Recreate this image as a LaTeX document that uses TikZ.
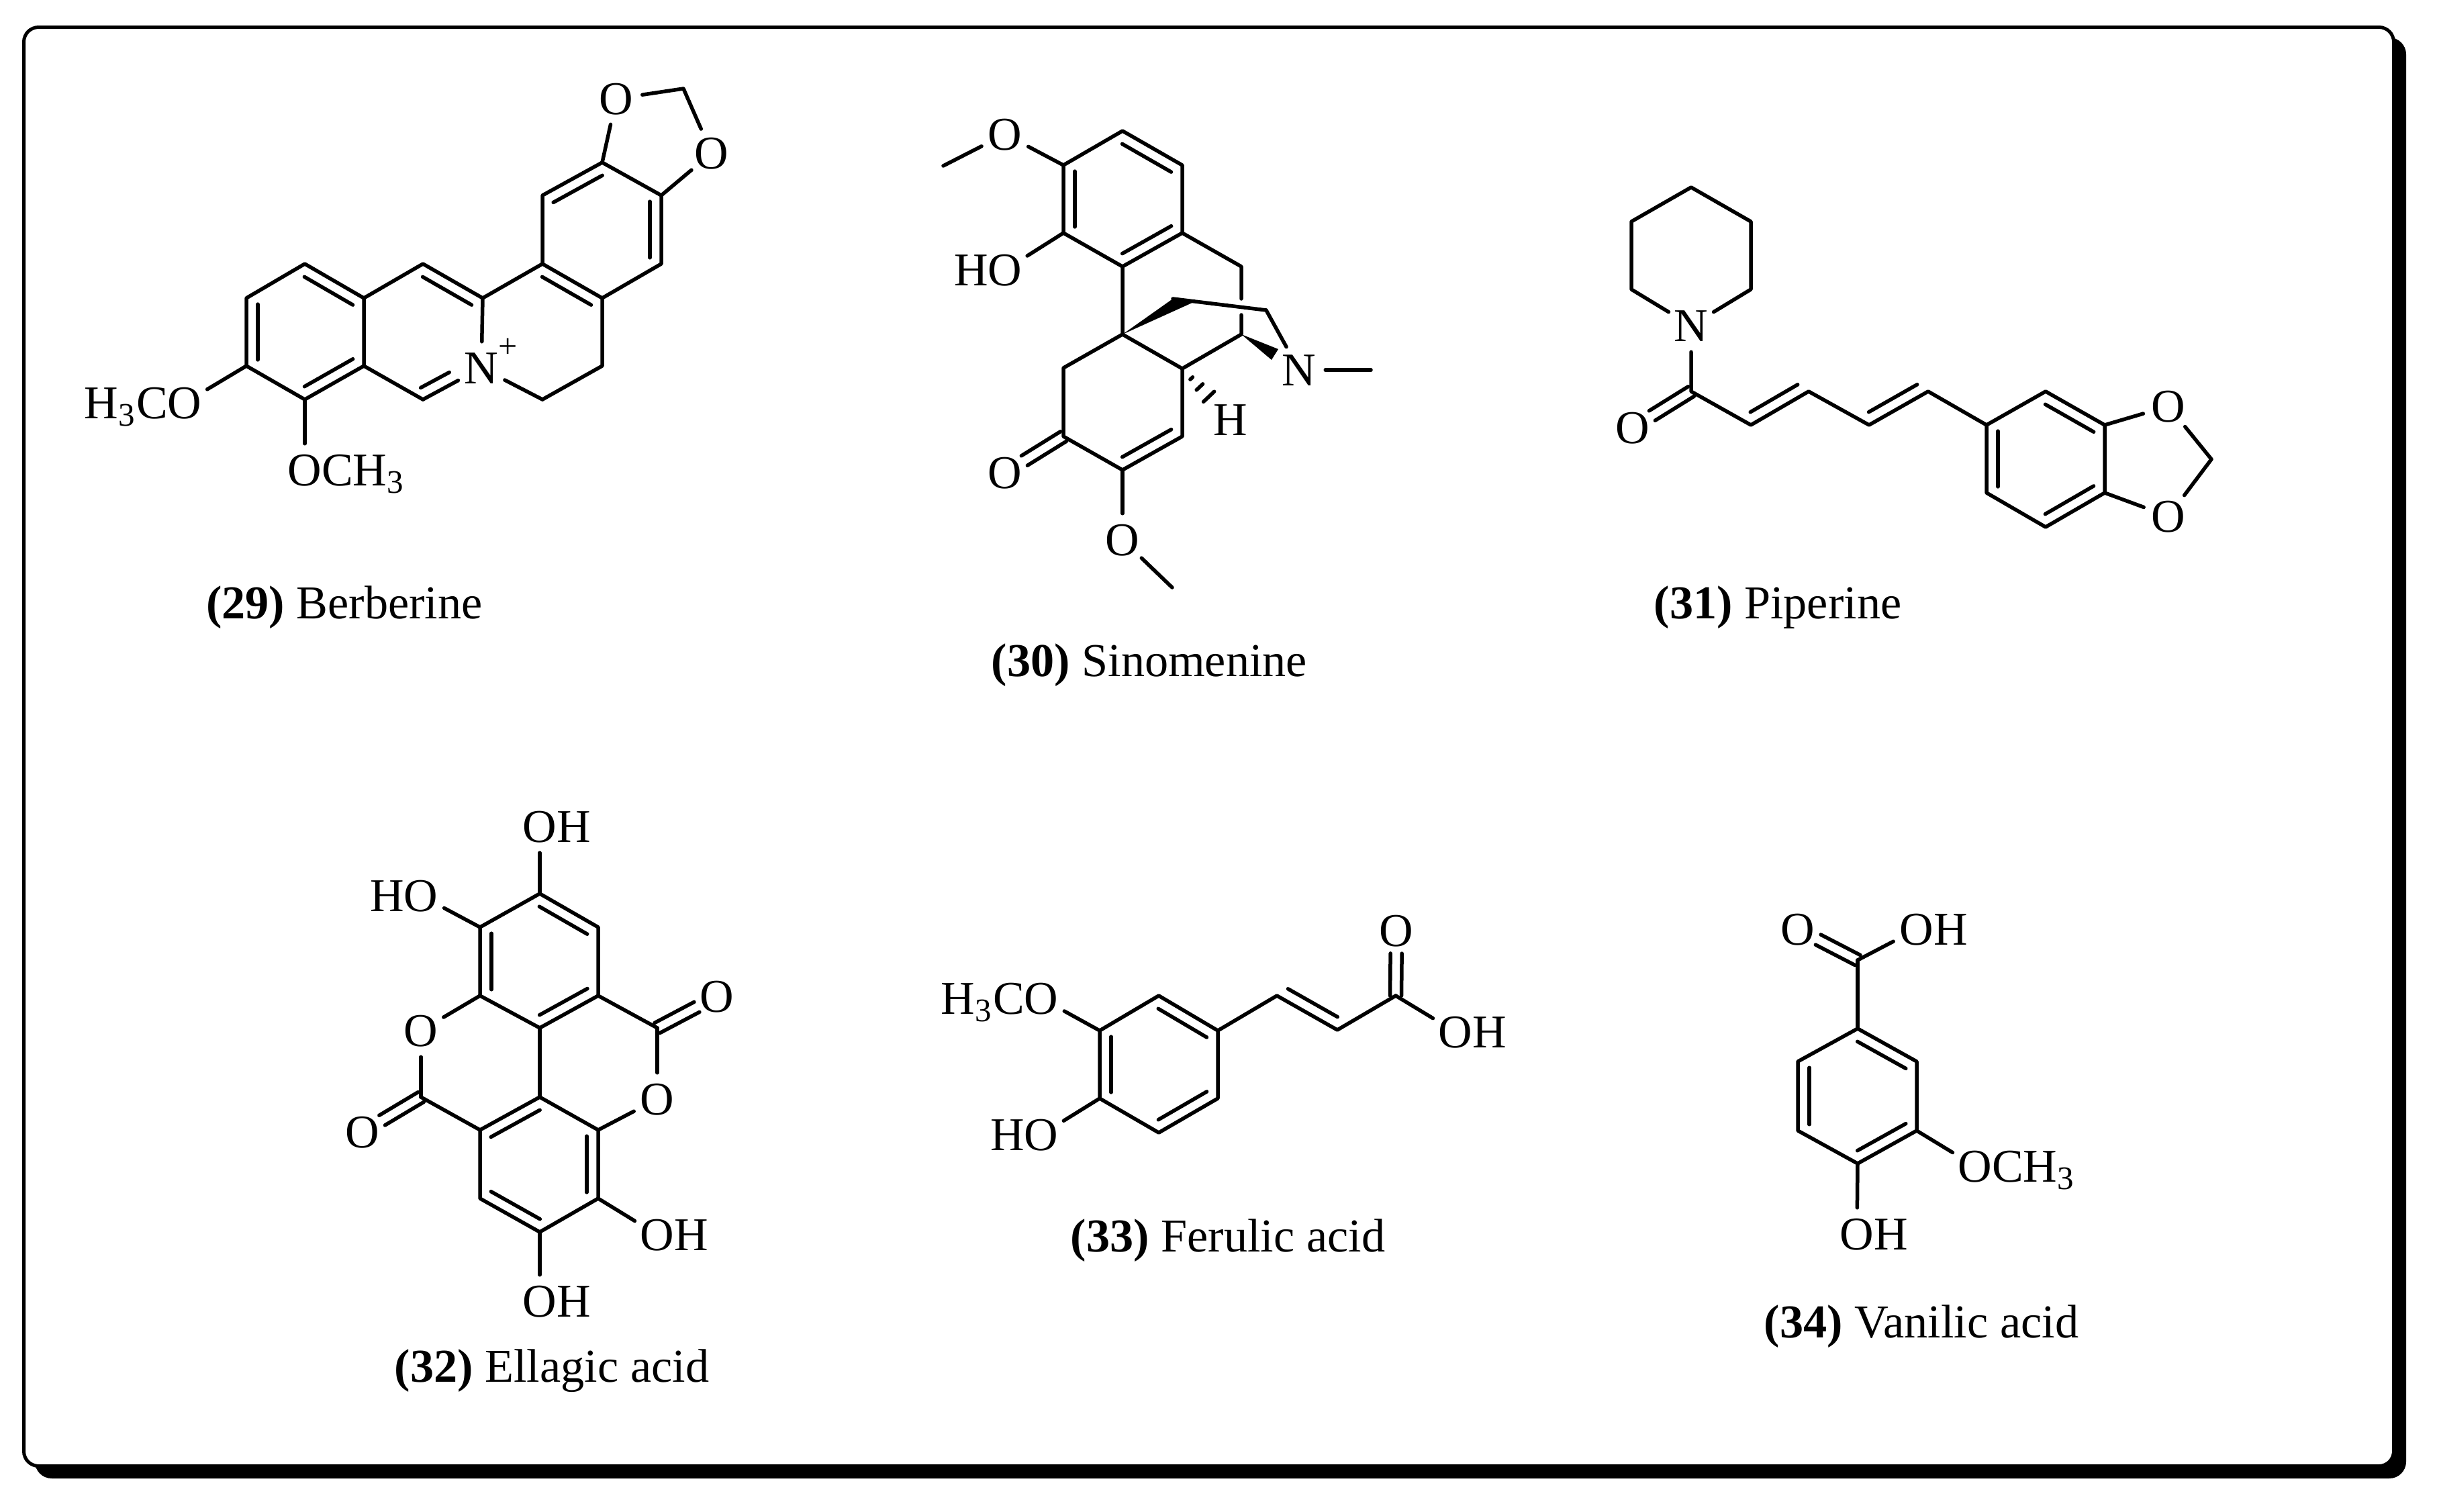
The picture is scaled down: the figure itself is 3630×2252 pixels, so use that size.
\documentclass[tikz,border=0pt]{standalone}
\usepackage{fontspec}
\setmainfont{Liberation Serif}
\usetikzlibrary{calc}
\tikzset{
	bond/.style={line width=1.1pt,line cap=round,line join=round},
	atom/.style={circle,inner sep=0pt,outer sep=1pt,text height=9.3pt,text depth=0pt,font=\fontsize{14}{17}\selectfont},
	capt/.style={anchor=base,inner sep=0pt,font=\fontsize{14.05}{17}\selectfont},
	frame/.style={line width=1pt,rounded corners=4.4pt}
}
\newcommand{\inbond}[2]{\draw[bond] ($(#1)!.09!(#2)!3.4pt!-90:(#2)$) -- ($(#2)!.09!(#1)!3.4pt!90:(#1)$);}
\newcommand{\dblbond}[2]{
	\draw[bond,shorten >=6.8pt] ($(#1)!1.7pt!-90:(#2)$) -- ($(#2)!1.7pt!90:(#1)$);
	\draw[bond,shorten >=6.8pt] ($(#1)!1.7pt!90:(#2)$) -- ($(#2)!1.7pt!-90:(#1)$);
}
\begin{document}
\begin{tikzpicture}[x=0.2pt,y=-0.2pt]
	\useasboundingbox (0,0) rectangle (3630,2252);
	\fill[rounded corners=5pt] (52,56) rectangle (3584,2202);
	\draw[frame,fill=white] (35.5,40.5) rectangle (3565.5,2183.5);

	\coordinate (ba1) at (367,444);
	\coordinate (ba2) at (454,393);
	\coordinate (ba3) at (542,444);
	\coordinate (ba4) at (542,545);
	\coordinate (ba5) at (454,595);
	\coordinate (ba6) at (367,545);
	\coordinate (bb1) at (630,393);
	\coordinate (bb2) at (719,444);
	\coordinate (bb4) at (630,595);
	\coordinate (bn) at (682,567);
	\coordinate (bc1) at (808,393);
	\coordinate (bc2) at (897,444);
	\coordinate (bc3) at (897,545);
	\coordinate (bc4) at (808,595);
	\coordinate (bd1) at (808,291);
	\coordinate (bd2) at (897,242);
	\coordinate (bd3) at (985,291);
	\coordinate (bd4) at (985,393);
	\coordinate (bch) at (1018,132);
	\node[atom] (bN) at (717,548) {N\rlap{\raisebox{1.2ex}{\fontsize{10}{12}\selectfont +}}};
	\node[atom] (bo1) at (918,147) {O};
	\node[atom] (bo2) at (1060,228) {O};
	\node[atom] (bo3) at (275,600) {\llap{H\textsubscript{3}C}O};
	\node[atom] (bo4) at (454,700) {O\rlap{CH\textsubscript{3}}};
	\draw[bond] (ba1) -- (ba2) -- (ba3) -- (ba4) -- (ba5) -- (ba6) -- cycle;
	\draw[bond] (ba3) -- (bb1) -- (bb2) -- (bc1) -- (bc2) -- (bc3) -- (bc4);
	\draw[bond] (ba4) -- (bb4);
	\draw[bond] (bb2) -- (bN);
	\draw[bond] (bb4) -- (bN);
	\draw[bond] (bc4) -- (bN);
	\draw[bond] (bc1) -- (bd1) -- (bd2) -- (bd3) -- (bd4) -- (bc2);
	\draw[bond] (bd2) -- (bo1);
	\draw[bond] (bd3) -- (bo2);
	\draw[bond] (bo1) -- (bch) -- (bo2);
	\draw[bond] (ba6) -- (bo3);
	\draw[bond] (ba5) -- (bo4);
	\inbond{ba2}{ba3}
	\inbond{ba4}{ba5}
	\inbond{ba6}{ba1}
	\inbond{bb1}{bb2}
	\inbond{bn}{bb4}
	\inbond{bc1}{bc2}
	\inbond{bd1}{bd2}
	\inbond{bd3}{bd4}
	\node[capt] (cap29) at (513,921) {\textbf{(29)} Berberine};

	\coordinate (sr1) at (1584,246);
	\coordinate (sr2) at (1672,195);
	\coordinate (sr3) at (1761,246);
	\coordinate (sr4) at (1761,347);
	\coordinate (sr5) at (1672,397);
	\coordinate (sr6) at (1584,347);
	\coordinate (ss1) at (1849,397);
	\coordinate (ss2) at (1849,498);
	\coordinate (sg1) at (1849,445);
	\coordinate (sg2) at (1849,469);
	\coordinate (sq) at (1672,498);
	\coordinate (st) at (1761,549);
	\coordinate (su) at (1584,548);
	\coordinate (sv) at (1584,650);
	\coordinate (sw) at (1672,700);
	\coordinate (sx) at (1761,650);
	\coordinate (sy) at (1747,445);
	\coordinate (sz) at (1778,450);
	\coordinate (sb) at (1886,462);
	\coordinate (sw1) at (1904,520);
	\coordinate (sw2) at (1894,536);
	\coordinate (sm1) at (1405,247);
	\coordinate (sm2) at (2042,551);
	\coordinate (sm3) at (1746,875);
	\node[atom] (so1) at (1497,200) {O};
	\node[atom] (so2) at (1497,402) {\llap{H}O};
	\node[atom] (so3) at (1497,704) {O};
	\node[atom] (so4) at (1672,804) {O};
	\node[atom] (sN) at (1935,551) {N};
	\node[atom] (sH) at (1833,625) {H};
	\dblbond{sv}{so3}
	\draw[bond] (sr1) -- (sr2) -- (sr3) -- (sr4) -- (sr5) -- (sr6) -- cycle;
	\draw[bond] (sr4) -- (ss1) -- (sg1);
	\draw[bond] (sg2) -- (ss2) -- (st) -- (sq) -- (sr5);
	\draw[bond] (sq) -- (su) -- (sv) -- (sw) -- (sx) -- (st);
	\fill (sq) -- (sy) -- (sz) -- cycle;
	\fill (ss2) -- (sw1) -- (sw2) -- cycle;
	\draw[bond] (sy) -- (sb);
	\draw[bond] (sb) -- (sN);
	\draw[bond] (sN) -- (sm2);
	\draw[bond] (sr1) -- (so1);
	\draw[bond] (so1) -- (sm1);
	\draw[bond] (sr6) -- (so2);
	\draw[bond] (sw) -- (so4);
	\draw[bond] (so4) -- (sm3);
	\draw[bond] ($(st)!.19!(sH)!.5pt!90:(sH)$) -- ($(st)!.19!(sH)!.5pt!-90:(sH)$);
	\draw[bond] ($(st)!.36!(sH)!1.3pt!90:(sH)$) -- ($(st)!.36!(sH)!1.3pt!-90:(sH)$);
	\draw[bond] ($(st)!.55!(sH)!2.2pt!90:(sH)$) -- ($(st)!.55!(sH)!2.2pt!-90:(sH)$);
	\inbond{sr2}{sr3}
	\inbond{sr4}{sr5}
	\inbond{sr6}{sr1}
	\inbond{sx}{sw}
	\node[capt] (cap30) at (1712,1007) {\textbf{(30)} Sinomenine};

	\coordinate (pp1) at (2519,279);
	\coordinate (pp2) at (2608,330);
	\coordinate (pp3) at (2608,431);
	\coordinate (pp5) at (2430,431);
	\coordinate (pp6) at (2430,330);
	\coordinate (pc0) at (2519,583);
	\coordinate (pc1) at (2608,633);
	\coordinate (pc2) at (2694,583);
	\coordinate (pc3) at (2784,633);
	\coordinate (pc4) at (2872,583);
	\coordinate (pr1) at (2959,633);
	\coordinate (pr2) at (3047,583);
	\coordinate (pr3) at (3135,633);
	\coordinate (pr4) at (3135,734);
	\coordinate (pr5) at (3047,785);
	\coordinate (pr6) at (2959,734);
	\coordinate (pch) at (3294,684);
	\node[atom] (pN) at (2519,485) {N};
	\node[atom] (po1) at (2432,637) {O};
	\node[atom] (po2) at (3230,605) {O};
	\node[atom] (po3) at (3230,769) {O};
	\dblbond{pc0}{po1}
	\draw[bond] (pN) -- (pp3) -- (pp2) -- (pp1) -- (pp6) -- (pp5) -- (pN);
	\draw[bond] (pN) -- (pc0) -- (pc1) -- (pc2) -- (pc3) -- (pc4) -- (pr1);
	\draw[bond] (pr1) -- (pr2) -- (pr3) -- (pr4) -- (pr5) -- (pr6) -- cycle;
	\draw[bond] (pr3) -- (po2);
	\draw[bond] (pr4) -- (po3);
	\draw[bond] (po2) -- (pch) -- (po3);
	\inbond{pc2}{pc1}
	\inbond{pc4}{pc3}
	\inbond{pr6}{pr1}
	\inbond{pr2}{pr3}
	\inbond{pr4}{pr5}
	\node[capt] (cap31) at (2648,921) {\textbf{(31)} Piperine};

	\coordinate (eu1) at (804,1331);
	\coordinate (eu2) at (891,1381);
	\coordinate (eu3) at (891,1483);
	\coordinate (eu4) at (804,1531);
	\coordinate (eu5) at (715,1483);
	\coordinate (eu6) at (715,1381);
	\coordinate (el1) at (804,1634);
	\coordinate (el2) at (891,1683);
	\coordinate (el3) at (891,1785);
	\coordinate (el4) at (804,1835);
	\coordinate (el5) at (715,1785);
	\coordinate (el6) at (715,1683);
	\coordinate (ek1) at (979,1531);
	\coordinate (ek2) at (627,1634);
	\node[atom] (eo1) at (804,1231) {O\rlap{H}};
	\node[atom] (eo2) at (627,1334) {\llap{H}O};
	\node[atom] (eo3) at (1068,1484) {O};
	\node[atom] (eo4) at (979,1637) {O};
	\node[atom] (eo5) at (627,1535) {O};
	\node[atom] (eo6) at (540,1686) {O};
	\node[atom] (eo7) at (979,1839) {O\rlap{H}};
	\node[atom] (eo8) at (804,1938) {O\rlap{H}};
	\dblbond{ek1}{eo3}
	\dblbond{ek2}{eo6}
	\draw[bond] (eu1) -- (eu2) -- (eu3) -- (eu4) -- (eu5) -- (eu6) -- cycle;
	\draw[bond] (el1) -- (el2) -- (el3) -- (el4) -- (el5) -- (el6) -- cycle;
	\draw[bond] (eu4) -- (el1);
	\draw[bond] (eu3) -- (ek1);
	\draw[bond] (ek1) -- (eo4);
	\draw[bond] (eo4) -- (el2);
	\draw[bond] (el6) -- (ek2);
	\draw[bond] (ek2) -- (eo5);
	\draw[bond] (eo5) -- (eu5);
	\draw[bond] (eu1) -- (eo1);
	\draw[bond] (eu6) -- (eo2);
	\draw[bond] (el3) -- (eo7);
	\draw[bond] (el4) -- (eo8);
	\inbond{eu1}{eu2}
	\inbond{eu3}{eu4}
	\inbond{eu5}{eu6}
	\inbond{el6}{el1}
	\inbond{el2}{el3}
	\inbond{el4}{el5}
	\node[capt] (cap32) at (822,2058) {\textbf{(32)} Ellagic acid};

	\coordinate (fr1) at (1726,1483);
	\coordinate (fr2) at (1814,1535);
	\coordinate (fr3) at (1814,1636);
	\coordinate (fr4) at (1726,1687);
	\coordinate (fr5) at (1638,1636);
	\coordinate (fr6) at (1638,1535);
	\coordinate (fc1) at (1902,1483);
	\coordinate (fc2) at (1992,1534);
	\coordinate (fc3) at (2079,1483);
	\node[atom] (fo1) at (2080,1386) {O};
	\node[atom] (fo2) at (2168,1537) {O\rlap{H}};
	\node[atom] (fo3) at (1551,1487) {\llap{H\textsubscript{3}C}O};
	\node[atom] (fo4) at (1551,1690) {\llap{H}O};
	\dblbond{fc3}{fo1}
	\draw[bond] (fr1) -- (fr2) -- (fr3) -- (fr4) -- (fr5) -- (fr6) -- cycle;
	\draw[bond] (fr2) -- (fc1) -- (fc2) -- (fc3);
	\draw[bond] (fc3) -- (fo2);
	\draw[bond] (fr6) -- (fo3);
	\draw[bond] (fr5) -- (fo4);
	\inbond{fr1}{fr2}
	\inbond{fr3}{fr4}
	\inbond{fr5}{fr6}
	\inbond{fc2}{fc1}
	\node[capt] (cap33) at (1829,1864) {\textbf{(33)} Ferulic acid};

	\coordinate (vr1) at (2767,1532);
	\coordinate (vr2) at (2855,1581);
	\coordinate (vr3) at (2855,1684);
	\coordinate (vr4) at (2767,1733);
	\coordinate (vr5) at (2678,1684);
	\coordinate (vr6) at (2678,1581);
	\coordinate (vc) at (2767,1430);
	\node[atom] (vo1) at (2678,1384) {O};
	\node[atom] (vo2) at (2855,1384) {O\rlap{H}};
	\node[atom] (vo3) at (2942,1737) {O\rlap{CH\textsubscript{3}}};
	\node[atom] (vo4) at (2766,1838) {O\rlap{H}};
	\dblbond{vc}{vo1}
	\draw[bond] (vr1) -- (vr2) -- (vr3) -- (vr4) -- (vr5) -- (vr6) -- cycle;
	\draw[bond] (vr1) -- (vc);
	\draw[bond] (vc) -- (vo2);
	\draw[bond] (vr3) -- (vo3);
	\draw[bond] (vr4) -- (vo4);
	\inbond{vr1}{vr2}
	\inbond{vr3}{vr4}
	\inbond{vr5}{vr6}
	\node[capt] (cap34) at (2862,1992) {\textbf{(34)} Vanilic acid};
\end{tikzpicture}
\end{document}
